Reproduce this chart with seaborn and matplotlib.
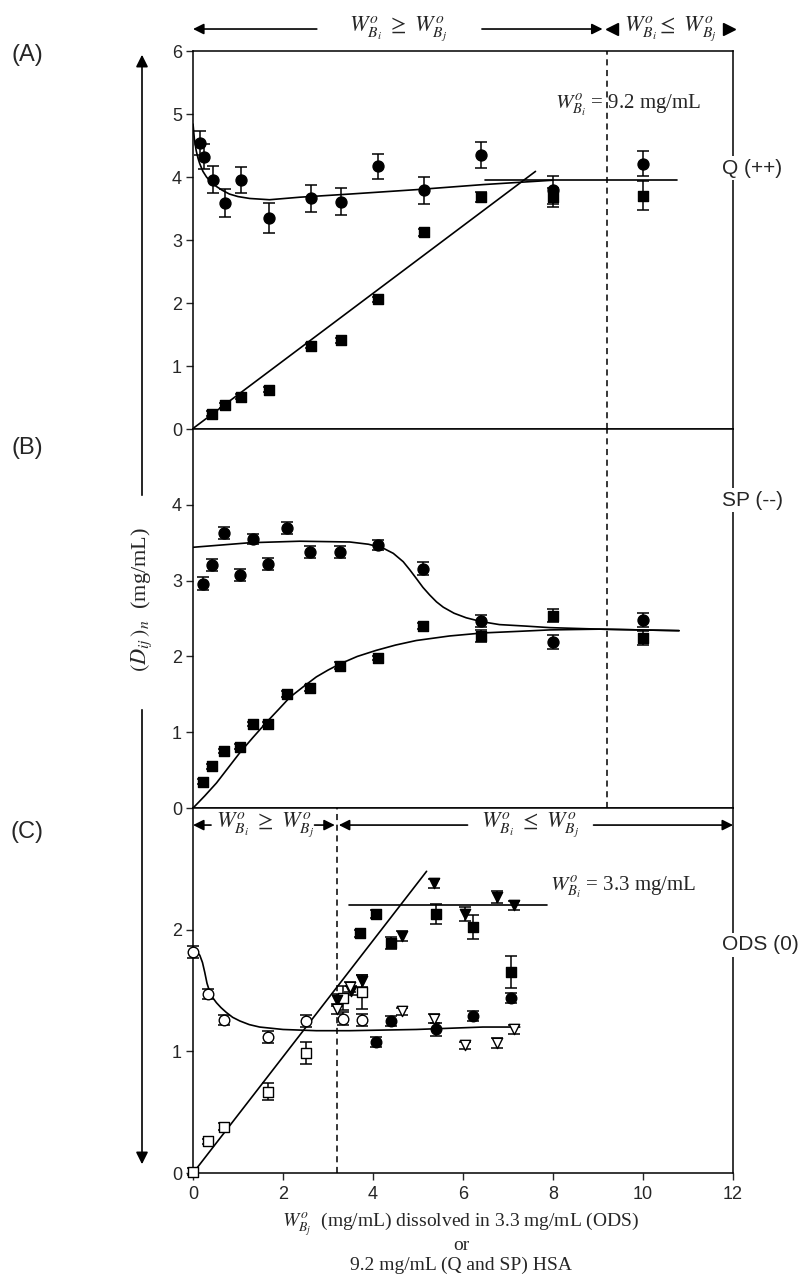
import numpy as np
import pandas as pd
import matplotlib
matplotlib.use("Agg")
import matplotlib.pyplot as plt
import seaborn as sns
from matplotlib.patches import FancyArrowPatch

# ---- panel A : Q (++) ----
a_circ_x = [0.15, 0.24, 0.44, 0.70, 1.07, 1.69, 2.62, 3.28, 4.10, 5.13, 6.39, 8.0, 10.0]
a_circ = [4.54, 4.32, 3.96, 3.59, 3.95, 3.35, 3.66, 3.61, 4.17, 3.79, 4.35, 3.80, 4.21]
a_circ_err = [0.19, 0.20, 0.21, 0.22, 0.21, 0.24, 0.22, 0.22, 0.20, 0.21, 0.20, 0.22, 0.20]
a_sq_x = [0.43, 0.70, 1.07, 1.69, 2.62, 3.28, 4.10, 5.13, 6.39, 8.0, 10.0]
a_sq = [0.24, 0.38, 0.51, 0.62, 1.32, 1.41, 2.06, 3.12, 3.69, 3.68, 3.70]
a_sq_err = [0.04, 0.04, 0.04, 0.04, 0.04, 0.04, 0.04, 0.05, 0.08, 0.15, 0.23]
a_fit_x = [0, 0.03, 0.07, 0.11, 0.15, 0.22, 0.30, 0.40, 0.52, 0.65, 0.81, 1.0, 1.26,
           1.70, 2.37, 3.48, 4.96, 6.44, 7.56, 8.0]
a_fit_y = [4.84, 4.60, 4.42, 4.30, 4.21, 4.09, 4.00, 3.92, 3.85, 3.79, 3.73, 3.69, 3.66,
           3.64, 3.68, 3.73, 3.80, 3.88, 3.93, 3.95]
a_line_x = [0.02, 7.61]
a_line_y = [0.02, 4.09]
a_flat_x = [6.48, 10.75]
a_flat_y = [3.95, 3.95]

# ---- panel B : SP (--) ----
b_x = [0.22, 0.42, 0.68, 1.05, 1.33, 1.67, 2.09, 2.61, 3.27, 4.10, 5.11, 6.39, 8.0, 10.0]
b_circ = [2.96, 3.21, 3.63, 3.08, 3.55, 3.22, 3.69, 3.38, 3.38, 3.47, 3.16, 2.47, 2.19, 2.48]
b_circ_err = [0.09, 0.08, 0.08, 0.08, 0.07, 0.08, 0.08, 0.08, 0.08, 0.07, 0.08, 0.08, 0.09, 0.09]
b_sq = [0.35, 0.55, 0.75, 0.81, 1.11, 1.11, 1.51, 1.58, 1.88, 1.98, 2.40, 2.27, 2.54, 2.24]
b_sq_err = [0.03, 0.03, 0.03, 0.03, 0.03, 0.03, 0.04, 0.04, 0.05, 0.03, 0.04, 0.08, 0.09, 0.09]
b_fit1_x = [0, 1.26, 2.37, 3.48, 3.9, 4.22, 4.45, 4.67, 4.82, 4.96, 5.11, 5.26, 5.41,
            5.56, 5.8, 6.07, 6.4, 6.81, 7.4, 7.93, 9.04, 10.8]
b_fit1_y = [3.44, 3.50, 3.52, 3.51, 3.48, 3.43, 3.36, 3.25, 3.14, 3.03, 2.91, 2.81, 2.72,
            2.65, 2.57, 2.51, 2.46, 2.42, 2.40, 2.38, 2.36, 2.34]
b_fit2_x = [0, 0.26, 0.52, 0.78, 1.04, 1.33, 1.63, 1.9, 2.15, 2.45, 2.74, 3.0, 3.26,
            3.65, 4.07, 4.5, 4.96, 5.7, 6.44, 7.2, 7.93, 9.04, 10.8]
b_fit2_y = [0, 0.16, 0.33, 0.53, 0.73, 0.93, 1.13, 1.30, 1.46, 1.60, 1.73, 1.82, 1.90,
            2.00, 2.08, 2.15, 2.21, 2.27, 2.31, 2.33, 2.35, 2.36, 2.34]

# ---- panel C : ODS (0) ----
c_ocirc_x = [0, 0.34, 0.68, 1.67, 2.50, 3.33, 3.75]
c_ocirc = [1.82, 1.47, 1.26, 1.12, 1.25, 1.27, 1.26]
c_ocirc_err = [0.05, 0.04, 0.04, 0.05, 0.05, 0.05, 0.05]
c_osq_x = [0, 0.34, 0.68, 1.67, 2.50, 3.33, 3.75]
c_osq = [0.01, 0.26, 0.38, 0.67, 0.99, 1.44, 1.49]
c_osq_err = [0.03, 0.02, 0.03, 0.07, 0.09, 0.10, 0.14]
c_fsq_x = [3.72, 4.07, 4.41, 5.39, 6.22, 7.06]
c_fsq = [1.97, 2.13, 1.89, 2.13, 2.02, 1.65]
c_fsq_err = [0.03, 0.03, 0.05, 0.08, 0.10, 0.13]
c_fcirc_x = [4.07, 4.41, 5.39, 6.22, 7.06]
c_fcirc = [1.08, 1.25, 1.18, 1.29, 1.44]
c_fcirc_err = [0.04, 0.04, 0.05, 0.04, 0.04]
c_tri_x = [3.19, 3.50, 3.76, 4.64, 5.35, 6.04, 6.76, 7.13]
c_ftri = [1.42, 1.50, 1.58, 1.95, 2.38, 2.13, 2.27, 2.20]
c_ftri_err = [0.05, 0.04, 0.05, 0.04, 0.04, 0.06, 0.05, 0.04]
c_otri_x = [3.19, 3.48, 4.64, 5.35, 6.04, 6.76, 7.13]
c_otri = [1.35, 1.53, 1.33, 1.27, 1.05, 1.07, 1.18]
c_otri_err = [0.04, 0.04, 0.03, 0.04, 0.03, 0.04, 0.04]
c_fit_x = [0, 0.08, 0.15, 0.21, 0.26, 0.31, 0.37, 0.44, 0.52, 0.62, 0.74, 0.88, 1.04,
           1.25, 1.48, 2.0, 2.74, 3.48, 4.96, 6.44, 7.26]
c_fit_y = [1.83, 1.82, 1.79, 1.73, 1.65, 1.56, 1.49, 1.44, 1.40, 1.36, 1.32, 1.28, 1.25,
           1.22, 1.20, 1.18, 1.17, 1.17, 1.18, 1.20, 1.20]
c_line_x = [0, 5.19]
c_line_y = [0, 2.48]
c_flat_x = [3.46, 7.87]
c_flat_y = [2.20, 2.20]

x_ticks = [0, 2, 4, 6, 8, 10, 12]
xlabel_lines = ['$W^{o}_{B_j}$  (mg/mL) dissolved in 3.3 mg/mL (ODS)', 'or',
                '9.2 mg/mL (Q and SP) HSA']

sns.set_style("ticks")
plt.rcParams['font.family'] = ['Liberation Sans', 'DejaVu Sans']
plt.rcParams['mathtext.fontset'] = 'stix'
plt.rcParams['axes.linewidth'] = 1.1

fig = plt.figure(figsize=(8, 12.83), dpi=100)
L, W = 0.2413, 0.675
axA = fig.add_axes([L, 0.6656, W, 0.2946])
axB = fig.add_axes([L, 0.3702, W, 0.2954])
axC = fig.add_axes([L, 0.0857, W, 0.2845])

serif = ['Liberation Serif', 'DejaVu Serif']


def pts(ax, x, y, err, marker, filled, size=50):
    ax.errorbar(x, y, yerr=err, fmt='none', ecolor='k', elinewidth=1.1,
                capsize=4, capthick=1.1, zorder=2, clip_on=False)
    sns.scatterplot(x=x, y=y, ax=ax, marker=marker, s=size,
                    color='k' if filled else 'white', edgecolor='k',
                    linewidth=1.0, zorder=4, clip_on=False)


def curve(ax, x, y):
    sns.lineplot(x=x, y=y, ax=ax, color='k', lw=1.2, sort=False,
                 estimator=None, zorder=3)


for ax in (axA, axB, axC):
    ax.set_xlim(0, 12)
    for s in ax.spines.values():
        s.set_visible(True)
        s.set_color('k')
    ax.tick_params(axis='y', direction='out', length=5, width=1, labelsize=13, pad=3)
    ax.set_xlabel('')
    ax.set_ylabel('')

# panel A
curve(axA, a_fit_x, a_fit_y)
curve(axA, a_line_x, a_line_y)
curve(axA, a_flat_x, a_flat_y)
pts(axA, a_circ_x, a_circ, a_circ_err, 'o', True, 62)
pts(axA, a_sq_x, a_sq, a_sq_err, 's', True, 42)
axA.set_ylim(0, 6)
axA.set_yticks([0, 1, 2, 3, 4, 5, 6])
axA.axvline(9.2, color='k', ls=(0, (4, 3)), lw=1.1)
axA.set_xticks([])

# panel B
curve(axB, b_fit1_x, b_fit1_y)
curve(axB, b_fit2_x, b_fit2_y)
pts(axB, b_x, b_circ, b_circ_err, 'o', True, 62)
pts(axB, b_x, b_sq, b_sq_err, 's', True, 42)
axB.set_ylim(0, 5)
axB.set_yticks([0, 1, 2, 3, 4])
axB.axvline(9.2, color='k', ls=(0, (4, 3)), lw=1.1)
axB.set_xticks([])

# panel C
curve(axC, c_fit_x, c_fit_y)
curve(axC, c_line_x, c_line_y)
curve(axC, c_flat_x, c_flat_y)
pts(axC, c_ocirc_x, c_ocirc, c_ocirc_err, 'o', False, 58)
pts(axC, c_osq_x, c_osq, c_osq_err, 's', False, 42)
pts(axC, c_fsq_x, c_fsq, c_fsq_err, 's', True, 48)
pts(axC, c_fcirc_x, c_fcirc, c_fcirc_err, 'o', True, 58)
pts(axC, c_tri_x, c_ftri, c_ftri_err, 'v', True, 55)
pts(axC, c_otri_x, c_otri, c_otri_err, 'v', False, 55)
axC.set_ylim(0, 3)
axC.set_yticks([0, 1, 2])
axC.axvline(3.2, color='k', ls=(0, (4, 3)), lw=1.1)
axC.set_xticks(x_ticks)
axC.tick_params(axis='x', direction='out', length=5, width=1, labelsize=13, pad=4)

# region arrows, top of panel A
arr = dict(arrowstyle='-|>', color='k', lw=1.2, mutation_scale=16, shrinkA=0, shrinkB=0)
ya = 6.35
axA.annotate('', xy=(0, ya), xytext=(2.75, ya), arrowprops=arr, annotation_clip=False)
axA.annotate('', xy=(9.1, ya), xytext=(6.42, ya), arrowprops=arr, annotation_clip=False)
axA.text(4.55, ya, r'$W^{o}_{B_i}\ \geq\ W^{o}_{B_j}$', ha='center', va='center',
         fontsize=16, clip_on=False)
axA.plot([9.3], [ya], marker='<', color='k', ms=8, clip_on=False)
axA.plot([11.9], [ya], marker='>', color='k', ms=8, clip_on=False)
axA.text(10.6, ya, r'$W^{o}_{B_i}\leq\ W^{o}_{B_j}$', ha='center', va='center',
         fontsize=16, clip_on=False)
axA.text(8.05, 5.14, r'$W^{o}_{B_i}$ = 9.2 mg/mL', ha='left', va='center',
         fontsize=15, family=serif)

# region arrows, top of panel C
yc = 2.86
axC.annotate('', xy=(0, yc), xytext=(0.4, yc), arrowprops=arr)
axC.annotate('', xy=(3.15, yc), xytext=(2.7, yc), arrowprops=arr)
axC.text(1.6, yc, r'$W^{o}_{B_i}\ \geq\ W^{o}_{B_j}$', ha='center', va='center', fontsize=16)
axC.annotate('', xy=(3.24, yc), xytext=(6.1, yc), arrowprops=arr)
axC.annotate('', xy=(12, yc), xytext=(8.9, yc), arrowprops=arr, annotation_clip=False)
axC.text(7.5, yc, r'$W^{o}_{B_i}\ \leq\ W^{o}_{B_j}$', ha='center', va='center', fontsize=16)
axC.text(7.93, 2.35, r'$W^{o}_{B_i}$ = 3.3 mg/mL', ha='left', va='center',
         fontsize=15, family=serif)

# panel letters and right-hand labels
for lab, yy in [('(A)', 55), ('(B)', 448), ('(C)', 832)]:
    fig.text(27 / 800, 1 - yy / 1283, lab, ha='center', va='center', fontsize=17)
box = dict(facecolor='white', edgecolor='none', pad=2)
for lab, yy in [('Q (++)', 168), ('SP (--)', 500), ('ODS (0)', 945)]:
    fig.text(722 / 800, 1 - yy / 1283, lab, ha='left', va='center', fontsize=15, bbox=box)

# y label with long arrows
fig.text(142 / 800, 1 - 600 / 1283, r'$(D_{ij}\,)_n$  (mg/mL)', rotation=90,
         ha='center', va='center', fontsize=16, family=serif)
fig.add_artist(FancyArrowPatch((142 / 800, 1 - 498 / 1283), (142 / 800, 1 - 52 / 1283),
                               transform=fig.transFigure, arrowstyle='-|>',
                               mutation_scale=18, color='k', lw=1.2))
fig.add_artist(FancyArrowPatch((142 / 800, 1 - 707 / 1283), (142 / 800, 1 - 1167 / 1283),
                               transform=fig.transFigure, arrowstyle='-|>',
                               mutation_scale=18, color='k', lw=1.2))

# x label, one line at a time (baselines)
for line, yy in zip(xlabel_lines, [1227, 1250, 1270]):
    fig.text(461 / 800, 1 - yy / 1283, line, ha='center', va='baseline',
             fontsize=14, family=serif)

fig.savefig('out.png', dpi=100)
